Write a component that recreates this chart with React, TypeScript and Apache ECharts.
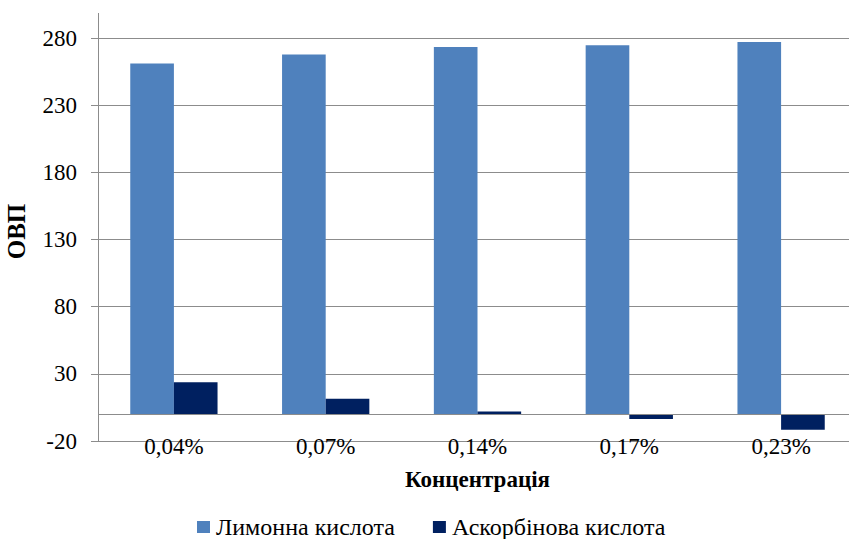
import React, { useEffect, useRef } from 'react';
import * as echarts from 'echarts';

const categories = ['0,04%', '0,07%', '0,14%', '0,17%', '0,23%'];
const citricValues = [261, 267.7, 273.3, 274.6, 277];
const ascorbicValues = [23.8, 11.4, 1.9, -3.7, -11.7];
const seriesNames = ['Лимонна кислота', 'Аскорбінова кислота'];
const yMin = -20;
const yMax = 280;
const yStep = 50;

export default function App() {
  const ref = useRef<HTMLDivElement>(null);
  useEffect(() => {
    const chart = echarts.init(ref.current!, null, { renderer: 'svg' });
    const font = "'Liberation Serif', 'DejaVu Serif', serif";
    const grey = '#8c8c8c';
    chart.setOption({
      animation: false,
      backgroundColor: '#ffffff',
      textStyle: { fontFamily: font },
      grid: {
        left: 98,
        right: -8,
        top: 38,
        bottom: 98,
        containLabel: false,
        outerBoundsMode: 'none',
      },
      legend: {
        data: seriesNames,
        left: 192,
        top: 510,
        icon: 'rect',
        itemWidth: 13,
        itemHeight: 12,
        itemGap: 38,
        textStyle: { fontSize: 24, lineHeight: 24, fontFamily: font, color: '#000', padding: [0, 0, 0, 1] },
      },
      xAxis: {
        type: 'category',
        data: categories,
        axisLine: { show: false },
        axisTick: { show: false },
        splitLine: { show: false },
        axisLabel: { margin: -6, fontSize: 23, fontFamily: font, color: '#000' },
        name: 'Концентрація',
        nameLocation: 'middle',
        nameGap: 27,
        nameTextStyle: { fontSize: 23, fontWeight: 'bold', fontFamily: font, color: '#000' },
      },
      yAxis: {
        type: 'value',
        min: yMin,
        max: yMax,
        interval: yStep,
        axisLine: { show: true, lineStyle: { color: grey, width: 1 } },
        axisTick: { show: true, length: 7, lineStyle: { color: grey, width: 1 } },
        splitLine: { show: true, lineStyle: { color: grey, width: 1 } },
        axisLabel: { margin: 21, fontSize: 23, fontFamily: font, color: '#000' },
        name: 'ОВП',
        nameLocation: 'middle',
        nameGap: 69,
        nameTextStyle: {
          fontSize: 25,
          fontWeight: 'bold',
          fontFamily: font,
          color: '#000',
          padding: [0, 0, 0, 16],
        },
      },
      graphic: [
        {
          type: 'line',
          shape: { x1: 98.5, y1: 13, x2: 98.5, y2: 38 },
          style: { stroke: grey, lineWidth: 1 },
          silent: true,
        },
      ],
      series: [
        {
          name: seriesNames[0],
          type: 'bar',
          data: citricValues,
          itemStyle: { color: '#4F81BD' },
          barGap: '0%',
          barCategoryGap: '42.5%',
        },
        {
          name: seriesNames[1],
          type: 'bar',
          data: ascorbicValues,
          itemStyle: { color: '#002060' },
          barGap: '0%',
          barCategoryGap: '42.5%',
          markLine: {
            silent: true,
            symbol: 'none',
            label: { show: false },
            lineStyle: { color: grey, width: 1, type: 'solid' },
            data: [{ yAxis: 0 }],
          },
        },
      ],
    });
    return () => chart.dispose();
  }, []);
  return (
    <div
      ref={ref}
      style={{ position: 'fixed', left: 0, top: 0, width: 849, height: 539 }}
    />
  );
}
